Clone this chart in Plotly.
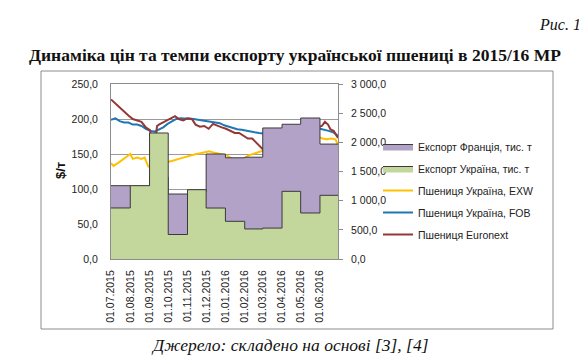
import plotly.graph_objects as go

# ---------------- data ----------------
month_starts = ["2015-07-01", "2015-08-01", "2015-09-01", "2015-10-01", "2015-11-01", "2015-12-01",
                "2016-01-01", "2016-02-01", "2016-03-01", "2016-04-01", "2016-05-01", "2016-06-01"]
period_end = "2016-06-30"
tick_labels = ["01.07.2015", "01.08.2015", "01.09.2015", "01.10.2015", "01.11.2015", "01.12.2015",
               "01.01.2016", "01.02.2016", "01.03.2016", "01.04.2016", "01.05.2016", "01.06.2016"]

export_france = [1257, 1250, 1400, 1114, 1150, 1800, 1735, 1745, 2246, 2310, 2417, 1970]
export_ukraine = [875, 1257, 2160, 420, 1188, 874, 646, 515, 530, 1160, 789, 1092]

exw_dates = ["2015-07-01", "2015-07-05", "2015-07-12", "2015-07-19", "2015-07-26", "2015-08-01", "2015-08-05",
             "2015-08-12", "2015-08-19", "2015-08-24", "2015-08-30", "2015-09-06", "2015-09-13", "2015-09-20",
             "2015-09-27", "2015-10-04", "2015-10-11", "2015-10-18", "2015-10-25", "2015-11-01", "2015-11-08",
             "2015-11-15", "2015-11-22", "2015-11-29", "2015-12-06", "2015-12-13", "2015-12-20", "2015-12-27",
             "2016-01-03", "2016-01-10", "2016-01-17", "2016-01-24", "2016-01-31", "2016-02-07", "2016-02-14",
             "2016-02-21", "2016-02-28", "2016-03-06", "2016-03-13", "2016-03-20", "2016-03-27", "2016-04-03",
             "2016-04-10", "2016-04-17", "2016-04-24", "2016-05-01", "2016-05-08", "2016-05-15", "2016-05-22",
             "2016-05-29", "2016-06-05", "2016-06-12", "2016-06-19", "2016-06-26", "2016-06-30"]
exw_values = [137, 133, 137, 141, 146, 150, 143, 145, 143, 145, 132, 134, 136, 137,
              138, 139, 141, 143, 145, 147, 148, 150, 151, 153, 154, 152, 151, 150,
              148, 144, 141, 139.5, 143, 148, 150, 153, 155, 156, 153, 152, 156, 160,
              163, 166, 169, 172, 175, 177, 177, 174, 172, 171, 172, 171, 163]

fob_dates = ["2015-07-01", "2015-07-08", "2015-07-15", "2015-07-22", "2015-07-29", "2015-08-05", "2015-08-12",
             "2015-08-19", "2015-08-26", "2015-09-02", "2015-09-09", "2015-09-16", "2015-09-23", "2015-09-30",
             "2015-10-07", "2015-10-14", "2015-10-21", "2015-10-28", "2015-11-04", "2015-11-11", "2015-11-18",
             "2015-11-25", "2015-12-02", "2015-12-09", "2015-12-16", "2015-12-23", "2015-12-30", "2016-01-06",
             "2016-01-13", "2016-01-20", "2016-01-27", "2016-02-03", "2016-02-10", "2016-02-17", "2016-02-24",
             "2016-03-02", "2016-03-09", "2016-03-16", "2016-03-23", "2016-03-30", "2016-04-06", "2016-04-13",
             "2016-04-20", "2016-04-27", "2016-05-04", "2016-05-11", "2016-05-18", "2016-05-25", "2016-06-01",
             "2016-06-08", "2016-06-15", "2016-06-22", "2016-06-30"]
fob_values = [199, 201, 197, 195, 195, 192, 192, 190, 186, 183,
              182, 185, 188, 193, 197, 200, 201, 201, 201, 200,
              199, 198, 197, 196, 195, 194, 191, 189, 187, 185.5,
              184.5, 183, 182, 181, 180, 179, 178, 177.6, 177, 176,
              176, 178, 180, 182, 185, 188, 188, 187, 186, 185,
              183, 181, 176]

eur_dates = ["2015-07-01", "2015-07-08", "2015-07-15", "2015-07-22", "2015-07-29", "2015-08-05", "2015-08-12",
             "2015-08-19", "2015-08-26", "2015-09-02", "2015-09-04", "2015-09-07", "2015-09-10", "2015-09-13",
             "2015-09-16", "2015-09-23", "2015-09-30", "2015-10-07", "2015-10-12", "2015-10-18", "2015-10-25",
             "2015-11-01", "2015-11-08", "2015-11-14", "2015-11-21", "2015-11-28", "2015-12-05", "2015-12-12",
             "2015-12-19", "2015-12-26", "2016-01-02", "2016-01-09", "2016-01-16", "2016-01-23", "2016-01-30",
             "2016-02-06", "2016-02-13", "2016-02-20", "2016-02-27", "2016-03-03", "2016-03-07", "2016-03-11",
             "2016-03-18", "2016-03-25", "2016-04-01", "2016-04-08", "2016-04-15", "2016-04-22", "2016-04-29",
             "2016-05-06", "2016-05-11", "2016-05-14", "2016-05-21", "2016-05-28", "2016-06-04", "2016-06-09",
             "2016-06-14", "2016-06-18", "2016-06-23", "2016-06-30"]
eur_values = [228, 222, 216, 210, 205, 200, 198, 196, 188, 184, 163, 170, 166, 190,
              192, 195, 198, 202, 204, 200, 198, 201, 200, 192, 189, 190, 186, 193,
              190, 188, 186, 183, 180, 180, 176, 172, 172, 166, 159, 155, 157, 172,
              174, 175, 176, 177, 174, 176, 172, 174, 168, 184, 186, 188, 190, 196,
              192, 185, 183, 173]

names = ["Експорт Франція, тис. т", "Експорт Україна, тис. т", "Пшениця Україна, EXW",
         "Пшениця Україна, FOB", "Пшениця Euronext"]

# ---------------- layout geometry ----------------
W, H = 587, 356
PL, PR, PT, PB = 103, 330, 76, 251


def px(x):
    return (x - PL) / (PR - PL)


def py(y):
    return (PB - y) / (PB - PT)


step_x = month_starts + [period_end]

fig = go.Figure()
fig.add_trace(go.Scatter(x=step_x, y=export_france + [export_france[-1]], name=names[0], yaxis="y2",
                         mode="lines", line=dict(shape="hv", color="#3a3a3a", width=1),
                         fill="tozeroy", fillcolor="#B3A2C7", legendgroup="a"))
fig.add_trace(go.Scatter(x=step_x, y=export_ukraine + [export_ukraine[-1]], name=names[1], yaxis="y2",
                         mode="lines", line=dict(shape="hv", color="#3a3a3a", width=1),
                         fill="tozeroy", fillcolor="#C3D69B", legendgroup="b"))
fig.add_trace(go.Scatter(x=exw_dates, y=exw_values, name=names[2], mode="lines",
                         line=dict(color="#FFC000", width=2), legendgroup="c"))
fig.add_trace(go.Scatter(x=fob_dates, y=fob_values, name=names[3], mode="lines",
                         line=dict(color="#1F77B4", width=2), legendgroup="d"))
fig.add_trace(go.Scatter(x=eur_dates, y=eur_values, name=names[4], mode="lines",
                         line=dict(color="#953735", width=2), legendgroup="e"))

tick_font = dict(family="Liberation Sans", size=10.5, color="#222")

fig.update_layout(
    width=W, height=H,
    margin=dict(l=PL, r=W - PR, t=PT, b=H - PB, pad=0),
    paper_bgcolor="white", plot_bgcolor="white",
    separators=", ",
    showlegend=True,
    legend=dict(x=px(370), y=py(124), xanchor="left", yanchor="top",
                font=dict(family="Liberation Sans", size=10.5, color="#222"),
                bgcolor="rgba(0,0,0,0)", traceorder="grouped", tracegroupgap=3,
                itemwidth=30),
    xaxis=dict(type="date", range=["2015-07-01", period_end],
               tickvals=month_starts, ticktext=tick_labels, tickangle=-90,
               tickfont=tick_font, showgrid=False, ticks="", ticklabelstandoff=6,
               showline=True, linecolor="#8c8c8c", linewidth=1, mirror=True),
    yaxis=dict(range=[0, 250], dtick=50, tickformat=".1f", tickfont=tick_font,
               showgrid=True, gridcolor="#9a9a9a", gridwidth=1, zeroline=False,
               ticks="", ticklabelstandoff=10,
               showline=True, linecolor="#8c8c8c", linewidth=1, mirror=True),
    yaxis2=dict(range=[0, 3000], dtick=500, tickformat=",.1f", tickfont=tick_font,
                overlaying="y", side="right", showgrid=False, zeroline=False,
                ticks="outside", ticklen=4, tickcolor="#8c8c8c", ticklabelstandoff=6,
                showline=True, linecolor="#8c8c8c", linewidth=1),
    annotations=[
        dict(text="<i>Рис. 1</i>", x=px(575), y=py(17), xref="paper", yref="paper",
             xanchor="right", yanchor="middle", showarrow=False,
             font=dict(family="Liberation Serif", size=16, color="#111")),
        dict(text="<b>Динаміка цін та темпи експорту української пшениці в 2015/16 МР</b>",
             x=px(287), y=py(47), xref="paper", yref="paper", xanchor="center", yanchor="middle",
             showarrow=False, font=dict(family="Liberation Serif", size=17.5, color="#111")),
        dict(text="<b>$/т</b>", x=px(52), y=py(163), xref="paper", yref="paper", textangle=-90,
             xanchor="center", yanchor="middle", showarrow=False,
             font=dict(family="Liberation Sans", size=13, color="#111")),
        dict(text="<i>Джерело: складено на основі [3], [4]</i>", x=px(282), y=py(337),
             xref="paper", yref="paper", xanchor="center", yanchor="middle", showarrow=False,
             font=dict(family="Liberation Serif", size=17.5, color="#111")),
    ],
    shapes=[
        dict(type="rect", xref="paper", yref="paper", x0=px(33), x1=px(545), y0=py(321), y1=py(63),
             line=dict(color="#8c8c8c", width=1), fillcolor="rgba(0,0,0,0)", layer="below"),
    ],
)

fig.write_html("out.html")
